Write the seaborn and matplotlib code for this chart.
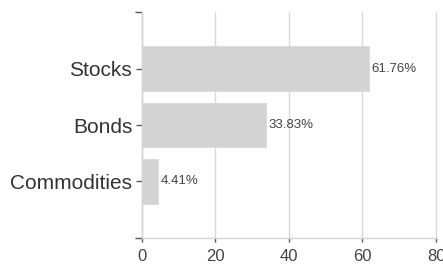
import pandas as pd
import matplotlib
matplotlib.use("Agg")
import matplotlib.pyplot as plt
import seaborn as sns

# allocation data
assets = ["Stocks", "Bonds", "Commodities"]
shares = [61.76, 33.83, 4.41]
x_ticks = [0, 20, 40, 60, 80]

df = pd.DataFrame({"asset": assets, "share": shares})

sns.set_style("white")
plt.rcParams["font.family"] = ["Liberation Sans", "DejaVu Sans"]

fig = plt.figure(figsize=(4.43, 2.65), dpi=100)
ax = fig.add_axes([0.3205, 0.1019, 0.6637, 0.8528])

sns.barplot(data=df, x="share", y="asset", color="#d3d3d3", saturation=1,
            width=0.78, edgecolor="#dcdcdc", linewidth=0.8, ax=ax)

for i, v in enumerate(shares):
    ax.text(v + 0.7, i, f"{v:.2f}%", va="center", ha="left",
            fontsize=9.5, color="#444444")

ax.set_xlim(0, 80)
ax.set_ylim(3, -1)
ax.set_xticks(x_ticks)
ax.set_xlabel("")
ax.set_ylabel("")
ax.xaxis.grid(True, color="#d9d9d9", linewidth=1)
ax.set_axisbelow(True)
for gl in ax.get_xgridlines():
    gl.set_clip_on(False)

for s in ["top", "right"]:
    ax.spines[s].set_visible(False)
for s in ["left", "bottom"]:
    ax.spines[s].set_color("#d3d3d3")
    ax.spines[s].set_linewidth(1)

# outer ticks at the ends of the category axis
ax.set_yticks([-1, 3], minor=True)
ax.tick_params(axis="y", which="both", left=True)
ax.tick_params(axis="x", which="both", bottom=True)
ax.tick_params(axis="y", which="minor", length=5, width=1, color="#555555")
ax.tick_params(axis="y", which="major", length=4, width=1, color="#555555",
               labelsize=15, labelcolor="#333333", pad=3)
ax.tick_params(axis="x", length=3, width=1, color="#555555",
               labelsize=12, labelcolor="#444444", pad=5)

fig.savefig("out.png", dpi=100)
